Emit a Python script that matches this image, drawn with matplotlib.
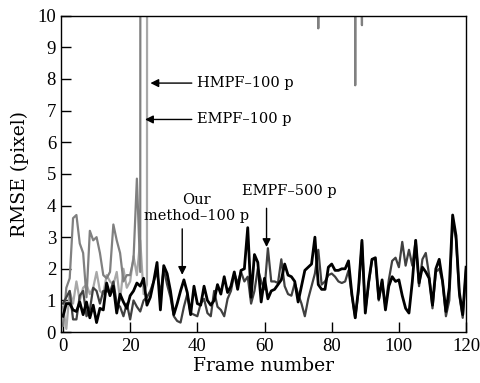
import matplotlib
matplotlib.use("Agg")
import matplotlib.pyplot as plt
import numpy as np

# RMSE per frame (values above 10 are off the chart)
ours_100 = [
    0.5, 0.9, 0.9, 0.7, 0.65, 0.95, 0.55, 0.95, 0.45, 0.85,
    0.3, 0.75, 0.7, 1.55, 1.15, 1.45, 0.6, 1.2, 0.95, 0.75,
    1.15, 1.3, 1.55, 1.45, 1.7, 0.85, 1.1, 1.6, 2.2, 0.7,
    2.1, 1.85, 1.3, 0.55, 0.9, 1.3, 1.65, 1.25, 0.55, 1.45,
    0.9, 0.85, 1.45, 1.0, 0.85, 1.0, 1.5, 1.2, 1.75, 1.25,
    1.45, 1.9, 1.35, 1.95, 2.0, 3.3, 1.1, 2.45, 2.2, 0.95,
    1.7, 1.05, 1.3, 1.35, 1.5, 1.65, 2.15, 1.8, 1.75, 1.6,
    0.95, 1.45, 1.95, 2.05, 2.15, 3.0, 1.5, 1.35, 1.35, 2.05,
    2.15, 1.95, 1.95, 2.0, 2.0, 2.25, 1.2, 0.45, 1.4, 2.9,
    0.6, 1.6, 2.3, 2.35, 1.05, 1.65, 0.7, 1.45, 1.75, 1.6,
    1.65, 1.15, 0.75, 0.6, 1.6, 2.9, 1.55, 2.05, 1.9, 1.7,
    0.85, 2.0, 2.3, 1.6, 0.65, 1.4, 3.7, 3.05, 1.25, 0.55,
    2.05,
]
empf_500 = [
    0.9, 1.1, 1.3, 0.4, 0.4, 1.15, 1.3, 0.5, 0.7, 1.4,
    1.3, 0.9, 1.3, 1.3, 1.25, 1.6, 0.9, 0.8, 0.5, 0.9,
    0.4, 1.0, 0.8, 0.65, 1.0, 1.1, 1.3, 1.6, 1.9, 1.2,
    2.0, 1.5, 1.1, 0.5, 0.35, 0.3, 0.8, 1.2, 0.6, 0.55,
    0.5, 0.9, 1.05, 0.6, 0.5, 1.3, 0.8, 0.7, 0.5, 1.05,
    1.3, 1.85, 1.55, 1.9, 1.6, 1.75, 0.9, 1.3, 2.0, 1.6,
    1.35, 2.65, 1.6, 1.6, 1.55, 2.3, 1.45, 1.2, 1.15, 1.55,
    1.2, 0.9, 0.5, 1.05, 1.45, 1.85, 2.6, 1.5, 1.6, 1.8,
    1.85, 1.75, 1.6, 1.55, 1.6, 1.95, 1.15, 0.45, 1.3, 2.85,
    0.65, 1.5, 2.3, 2.3, 1.0, 1.6, 0.8, 1.65, 2.25, 2.35,
    2.05, 2.85, 2.1, 2.6, 2.1, 2.9, 1.45, 2.3, 2.5, 1.8,
    0.75, 1.9, 2.0, 1.6, 0.5, 1.0, 3.5, 2.95, 1.15, 0.45,
    2.0,
]
empf_100 = [
    0.2, 1.4, 1.7, 3.6, 3.7, 2.8, 2.5, 1.1, 3.2, 2.9,
    3.0, 2.5, 1.8, 1.7, 1.9, 3.4, 2.9, 2.5, 1.6, 1.8,
    1.8, 2.3, 4.85, 1.9, 300, 300, 300, 300, 300, 300,
    300, 300, 300, 300, 300, 300, 300, 300, 300, 300,
    300, 300, 300, 300, 300, 300, 300, 300, 300, 300,
    300, 300, 300, 300, 300, 300, 300, 300, 300, 300,
    300, 300, 300, 300, 300, 300, 300, 300, 300, 300,
    300, 300, 300, 300, 300, 300, 9.6, 300, 300, 300,
    300, 300, 300, 300, 300, 300, 300, 7.8, 300, 9.7,
    300, 300, 300, 300, 300, 300, 300, 300, 300, 300,
    300, 300, 300, 300, 300, 300, 300, 300, 300, 300,
    300, 300, 300, 300, 300, 300, 300, 300, 300, 300,
    300,
]
hmpf_100 = [
    0.8, 0.1, 1.3, 0.9, 1.6, 1.0, 1.4, 1.5, 1.2, 1.4,
    1.9, 1.3, 1.2, 1.8, 1.6, 1.5, 1.9, 1.0, 2.0, 1.4,
    1.6, 2.4, 1.8, 2.9, 1.2, 1.5, 300, 300, 300, 300,
    300, 300, 300, 300, 300, 300, 300, 300, 300, 300,
    300, 300, 300, 300, 300, 300, 300, 300, 300, 300,
    300, 300, 300, 300, 300, 300, 300, 300, 300, 300,
    300, 300, 300, 300, 300, 300, 300, 300, 300, 300,
    300, 300, 300, 300, 300, 300, 300, 300, 300, 300,
    300, 300, 300, 300, 300, 300, 300, 300, 300, 300,
    300, 300, 300, 300, 300, 300, 300, 300, 300, 300,
    300, 300, 300, 300, 300, 300, 300, 300, 300, 300,
    300, 300, 300, 300, 300, 300, 300, 300, 300, 300,
    300,
]

plt.rcParams["font.family"] = "DejaVu Serif"

fig = plt.figure(figsize=(4.8, 3.83), dpi=100)
ax = fig.add_axes([0.127, 0.133, 0.844, 0.826])

ax.plot(np.arange(len(hmpf_100)), hmpf_100, color="#a8a8a8", lw=1.6)
ax.plot(np.arange(len(empf_100)), empf_100, color="#808080", lw=1.6)
ax.plot(np.arange(len(empf_500)), empf_500, color="#404040", lw=1.6)
ax.plot(np.arange(len(ours_100)), ours_100, color="black", lw=2.0)

ax.set_xlim(-0.6, 120)
ax.set_ylim(0, 10)
ax.set_xticks(range(0, 121, 20))
ax.set_yticks(range(0, 11))
ax.tick_params(direction="in", length=7, width=1, top=False, right=False)
ax.tick_params(axis="x", pad=4)
for lab in ax.get_xticklabels() + ax.get_yticklabels():
    lab.set_family("Liberation Serif")
    lab.set_fontsize(13.5)
for s in ax.spines.values():
    s.set_linewidth(1.0)

ax.set_xlabel("Frame number", fontsize=13.5, labelpad=2)
ax.set_ylabel("RMSE (pixel)", fontsize=13.5, labelpad=6)

arrow = dict(arrowstyle="-|>", color="black", lw=1.0, mutation_scale=12)
ax.annotate("HMPF–100 p", xy=(25.2, 7.87), xytext=(40, 7.87),
            fontsize=10.5, va="center", ha="left", arrowprops=arrow)
ax.annotate("EMPF–100 p", xy=(23.6, 6.72), xytext=(40, 6.72),
            fontsize=10.5, va="center", ha="left", arrowprops=arrow)
ax.annotate("", xy=(35.5, 1.72), xytext=(35.5, 3.35), arrowprops=arrow)
ax.text(39.7, 4.18, "Our", fontsize=10.5, ha="center", va="center")
ax.text(39.7, 3.66, "method–100 p", fontsize=10.5, ha="center", va="center")
ax.annotate("", xy=(60.6, 2.6), xytext=(60.6, 4.0), arrowprops=arrow)
ax.text(67.3, 4.45, "EMPF–500 p", fontsize=10.5, ha="center", va="center")

fig.savefig("out.png", dpi=100)
